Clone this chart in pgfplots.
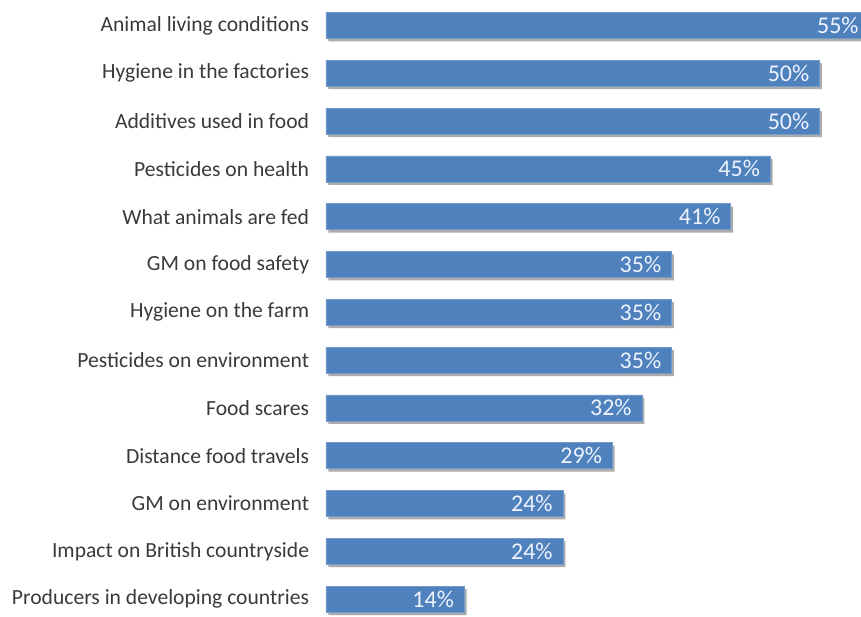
\documentclass[border=0pt]{standalone}
\usepackage{pgfplots}
\pgfplotsset{compat=1.18}
\usepackage{fontspec}
\setmainfont{Carlito}
\definecolor{barblue}{HTML}{4F81BD}
\definecolor{labgray}{HTML}{3A3A3A}
\definecolor{shadowgray}{HTML}{ABABAB}
\definecolor{barlab}{HTML}{EEF4FF}
\pgfplotstableread{
y val
0 55
1 50
2 50
3 45
4 41
5 35
6 35
7 35
8 32
9 29
10 24
11 24
12 14
}\datatable
\begin{document}
\begin{tikzpicture}
\begin{axis}[
  scale only axis,
  width=401.25pt, height=466.05pt,
  xbar, bar width=19.5pt,
  xmin=0, xmax=54.2,
  ymin=-0.5, ymax=12.5,
  y dir=reverse,
  axis line style={draw=none},
  hide x axis,
  ytick={0,...,12},
  yticklabels={Animal living conditions,Hygiene in the factories,Additives used in food,Pesticides on health,What animals are fed,GM on food safety,Hygiene on the farm,Pesticides on environment,Food scares,Distance food travels,GM on environment,Impact on British countryside,Producers in developing countries},
  major tick length=0pt,
  yticklabel style={font=\fontsize{16.2}{18}\selectfont, text=labgray, inner sep=0pt, xshift=-12.5pt},
  clip=false,
  /pgf/number format/assume math mode=true,
  nodes near coords={\pgfmathprintnumber{\pgfplotspointmeta}\%},
  point meta=x,
  every node near coord/.append style={anchor=east, xshift=-7.5pt, text=barlab, font=\fontsize{18}{20}\selectfont, inner sep=0pt},
]
\addplot[fill=barblue, draw=barblue!80!white,
  preaction={fill=shadowgray, draw=none, transform canvas={shift={(1.8pt,-2.2pt)}}}]
  table[x=val, y=y] {\datatable};
\end{axis}
\pgfresetboundingbox
\path[use as bounding box] (-244.5pt,4.5pt) rectangle (401.25pt,467.25pt);
\end{tikzpicture}
\end{document}
